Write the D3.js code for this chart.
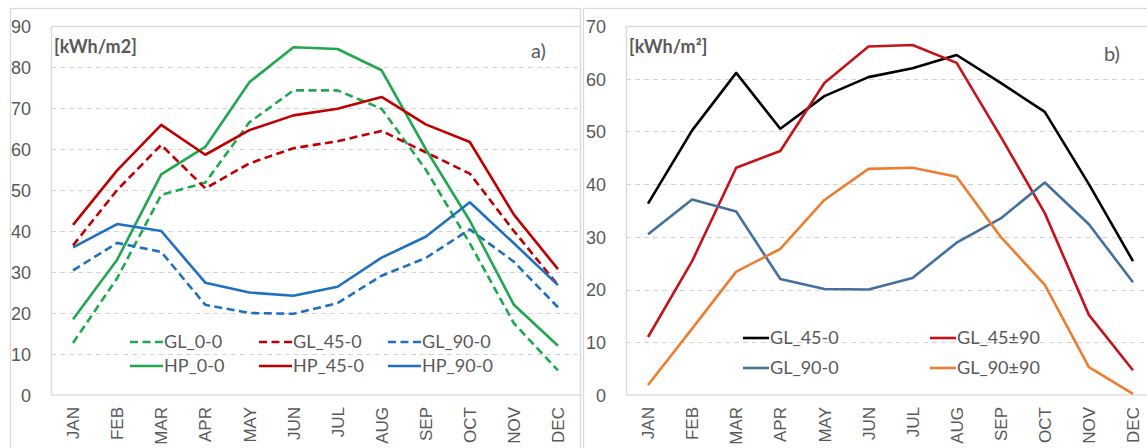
<!DOCTYPE html>
<html>
<head>
<meta charset="utf-8">
<script src="https://cdn.jsdelivr.net/npm/d3@7"></script>
<style>
  body { margin: 0; background: #fff; }
  svg { display: block; font-family: Lato, "Open Sans", sans-serif; }
  .tick text { fill: #595959; }
</style>
</head>
<body>
<svg id="chart" width="1147" height="448"></svg>
<script>
// months on the x axis
var months = ["JAN", "FEB", "MAR", "APR", "MAY", "JUN", "JUL", "AUG", "SEP", "OCT", "NOV", "DEC"];

// chart a) values [kWh/m2]
var gl_0_0  = [12.7, 28.5, 48.8, 51.8, 66.5, 74.3, 74.3, 69.8, 55, 37, 17.5, 6];
var gl_45_0 = [36.5, 50, 61, 50.4, 56.5, 60.2, 61.9, 64.4, 59.2, 54, 40, 26.8];
var gl_90_0 = [30.4, 37.1, 34.9, 22, 20, 19.8, 22.4, 29.1, 33.4, 40.4, 32.5, 21.4];
var hp_0_0  = [18.5, 33, 53.8, 60.5, 76.3, 84.8, 84.4, 79.2, 60, 42.5, 22, 12];
var hp_45_0 = [41.5, 54.8, 65.9, 58.6, 64.6, 68.2, 69.8, 72.7, 66, 61.7, 44, 30.7];
var hp_90_0 = [36, 41.7, 40, 27.4, 25, 24.2, 26.4, 33.5, 38.6, 47, 37, 26.8];

// chart b) values [kWh/m2]
var b_gl_45_0   = [36.3, 50.2, 61.1, 50.5, 56.7, 60.3, 62, 64.5, 59.2, 53.7, 40, 25.4];
var b_gl_45_90  = [11, 25.4, 43.1, 46.3, 59.2, 66.1, 66.4, 63, 49, 34.5, 15.2, 4.7];
var b_gl_90_0   = [30.5, 37.1, 34.8, 22, 20.1, 20, 22.2, 28.9, 33.5, 40.3, 32.4, 21.4];
var b_gl_90_90  = [1.9, 12.6, 23.4, 27.7, 37, 42.9, 43.1, 41.4, 30, 20.9, 5.3, 0.2];

// series definitions
var seriesA = [
    {name: "GL_0-0",  values: gl_0_0,  color: "#1fa84f", dash: true},
    {name: "GL_45-0", values: gl_45_0, color: "#c00000", dash: true},
    {name: "GL_90-0", values: gl_90_0, color: "#1f71c0", dash: true},
    {name: "HP_0-0",  values: hp_0_0,  color: "#1fa84f", dash: false},
    {name: "HP_45-0", values: hp_45_0, color: "#c00000", dash: false},
    {name: "HP_90-0", values: hp_90_0, color: "#1f71c0", dash: false}
];
var seriesB = [
    {name: "GL_45-0",  values: b_gl_45_0,  color: "#000000", dash: false},
    {name: "GL_45±90", values: b_gl_45_90, color: "#c5121b", dash: false},
    {name: "GL_90-0",  values: b_gl_90_0,  color: "#44709e", dash: false},
    {name: "GL_90±90", values: b_gl_90_90, color: "#ed7d31", dash: false}
];

var svg = d3.select("#chart");
var grey = "#595959",
    frame = "#d9d9d9";

// outer frames of both panels
svg.append("rect").attr("x", 10.5).attr("y", 8.5).attr("width", 570).attr("height", 460)
    .attr("fill", "none").attr("stroke", frame).attr("stroke-width", 1.2);
svg.append("rect").attr("x", 583.5).attr("y", 8.5).attr("width", 600).attr("height", 460)
    .attr("fill", "none").attr("stroke", frame).attr("stroke-width", 1.2);

// draws one panel
function panel(opts) {
    var g = svg.append("g");

    var x = d3.scaleBand()
        .domain(months)
        .range([opts.left, opts.left + 529]);

    var y = d3.scaleLinear()
        .domain([0, opts.max])
        .range([395, 26]);

    // gridlines
    g.append("g")
        .selectAll("line")
        .data(d3.range(10, opts.max, 10))
        .enter().append("line")
        .attr("x1", opts.left)
        .attr("x2", opts.left + 529)
        .attr("y1", function(d) { return Math.round(y(d)) + 0.5; })
        .attr("y2", function(d) { return Math.round(y(d)) + 0.5; })
        .attr("stroke", "#d4d4d4")
        .attr("stroke-dasharray", "5,4");

    // plot area border
    g.append("rect")
        .attr("x", opts.left + 0.5)
        .attr("y", 26.5)
        .attr("width", 529)
        .attr("height", 368.5)
        .attr("fill", "none")
        .attr("stroke", frame)
        .attr("stroke-width", 1.3);

    // y axis
    var yAxis = g.append("g")
        .attr("transform", "translate(" + (opts.left - 20) + ",0)")
        .call(d3.axisLeft(y).tickValues(d3.range(0, opts.max + 1, 10)).tickSize(0).tickPadding(0));
    yAxis.select(".domain").remove();
    yAxis.selectAll("text").style("font-size", "18px").attr("dy", "0.35em");

    // x axis labels
    var xAxis = g.append("g")
        .attr("transform", "translate(0,395)")
        .call(d3.axisBottom(x).tickSize(0));
    xAxis.select(".domain").remove();
    xAxis.selectAll("text")
        .style("font-size", "17px")
        .style("text-anchor", "end")
        .attr("transform", "rotate(-90)")
        .attr("x", -12)
        .attr("y", 0)
        .attr("dy", "0.36em");

    // lines
    var line = d3.line()
        .x(function(d, i) { return x(months[i]) + x.bandwidth() / 2; })
        .y(function(d) { return y(d); });

    g.append("g")
        .selectAll("path")
        .data(opts.series)
        .enter().append("path")
        .attr("d", function(s) { return line(s.values); })
        .attr("fill", "none")
        .attr("stroke", function(s) { return s.color; })
        .attr("stroke-width", 2.6)
        .attr("stroke-linejoin", "round")
        .attr("stroke-dasharray", function(s) { return s.dash ? "8,4.5" : null; });

    // unit label and panel letter
    g.append("text")
        .attr("x", opts.left + 3)
        .attr("y", 53)
        .attr("fill", grey)
        .style("font-size", "18px")
        .style("font-weight", "bold")
        .text(opts.unit);

    g.append("text")
        .attr("x", opts.letterX)
        .attr("y", opts.letterY)
        .attr("fill", grey)
        .style("font-size", "20px")
        .text(opts.letter);

    // legend
    var leg = g.append("g")
        .selectAll("g")
        .data(opts.series)
        .enter().append("g")
        .attr("transform", function(s, i) {
            var col = i % opts.legCols,
                row = Math.floor(i / opts.legCols);
            return "translate(" + (opts.legX + col * opts.legDx) + "," + (opts.legY + row * opts.legDy) + ")";
        });

    leg.append("line")
        .attr("x1", 0)
        .attr("x2", opts.legLen)
        .attr("stroke", function(s) { return s.color; })
        .attr("stroke-width", 2.6)
        .attr("stroke-dasharray", function(s) { return s.dash ? "8,4.5" : null; });

    leg.append("text")
        .attr("x", opts.legLen + 1)
        .attr("dy", "0.36em")
        .attr("fill", grey)
        .style("font-size", "18px")
        .text(function(s) { return s.name; });
}

panel({
    left: 51, max: 90, series: seriesA,
    unit: "[kWh/m2]", letter: "a)", letterX: 531, letterY: 58,
    legX: 130, legY: 342, legCols: 3, legDx: 129, legDy: 24, legLen: 33
});

panel({
    left: 626, max: 70, series: seriesB,
    unit: "[kWh/m²]", letter: "b)", letterX: 1104, letterY: 61,
    legX: 743, legY: 338, legCols: 2, legDx: 187, legDy: 30, legLen: 26
});
</script>
</body>
</html>
